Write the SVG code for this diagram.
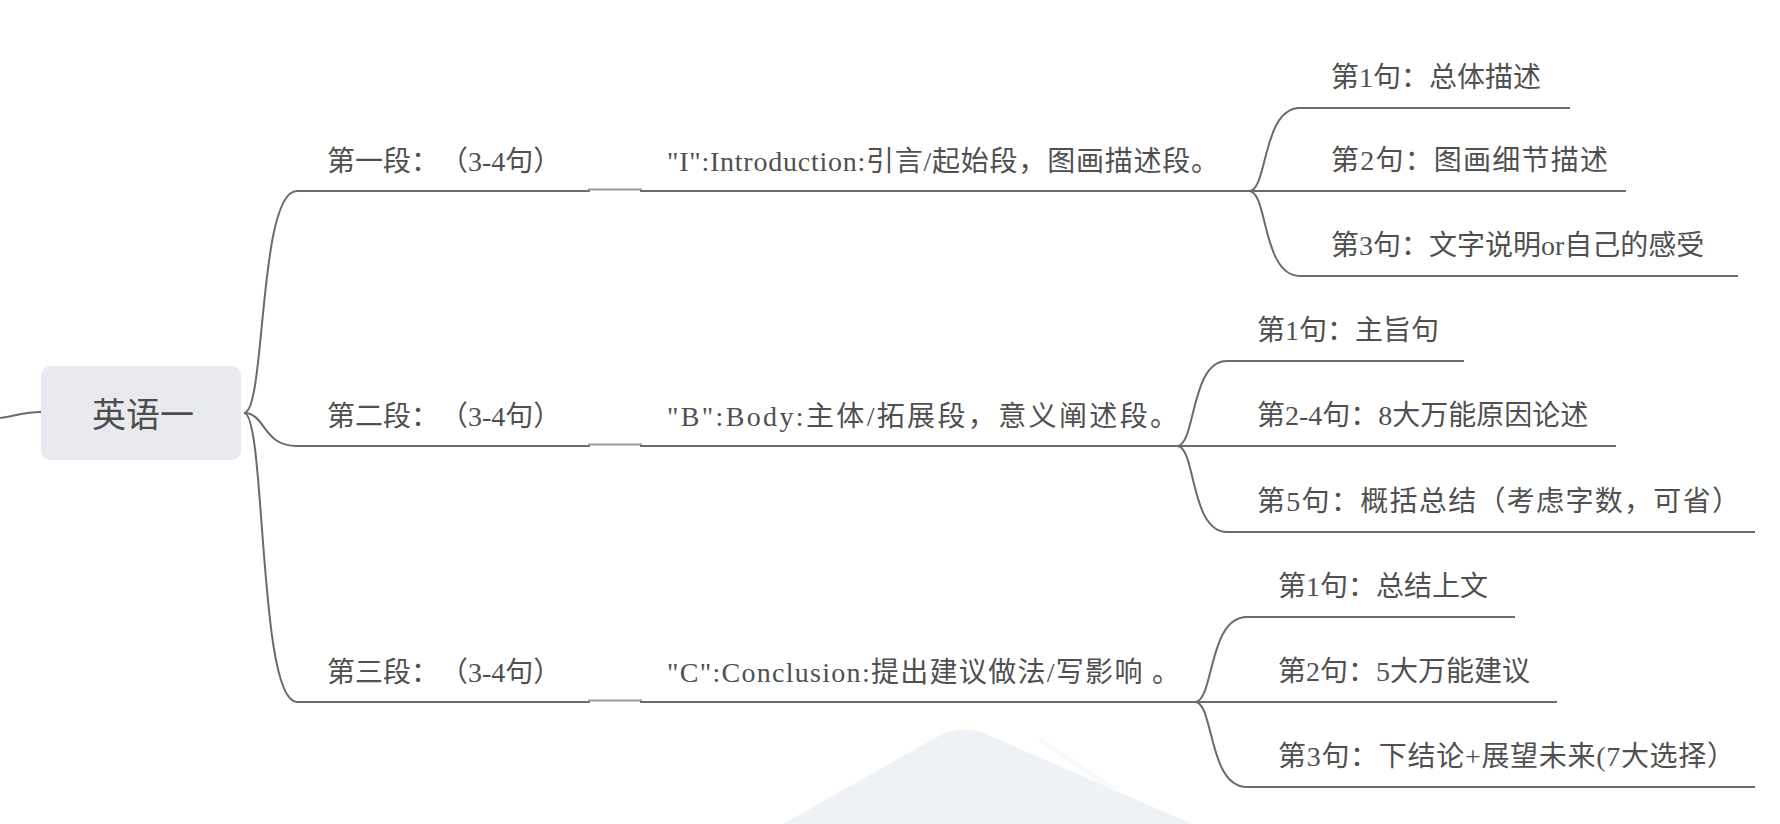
<svg xmlns="http://www.w3.org/2000/svg" width="1780" height="824" viewBox="0 0 1780 824">
<style>
.t{font-family:"Liberation Serif","Noto Sans CJK SC",serif;font-size:28px;fill:#505050;}
.root{font-family:"Liberation Serif","Noto Sans CJK SC",serif;font-size:34px;fill:#4d4d4d;text-anchor:middle;}
.c{fill:none;stroke:#6b6b6b;stroke-width:2;}
.s{fill:none;stroke:#9a9a9a;stroke-width:2;}
</style>
<rect width="1780" height="824" fill="#ffffff"/>
<g id="watermark">
<path d="M783,824 L935,738 Q965,721 995,738 L1192,824 Z" fill="#eef1f5"/>
<path d="M1040,740 L1115,790" stroke="#f7f9fb" stroke-width="5" fill="none"/>
</g>
<g id="connectors">
<path class="c" d="M0,418 C15,416 25,412 41,412"/>
<path class="c" d="M244,413 C266,413 258,191 297,191"/>
<path class="c" d="M244,413 C266,413 262,446 297,446"/>
<path class="c" d="M244,413 C266,413 258,702 297,702"/>
<path class="c" d="M297,191 H590"/><path class="s" d="M588,189.5 H642"/><path class="c" d="M640,191 H1249"/>
<path class="c" d="M297,446 H590"/><path class="s" d="M588,444.5 H642"/><path class="c" d="M640,446 H1177"/>
<path class="c" d="M297,702 H590"/><path class="s" d="M588,700.5 H642"/><path class="c" d="M640,702 H1195"/>
<path class="c" d="M1249,191 C1268,191 1262,108 1300,108 H1570"/>
<path class="c" d="M1249,191 H1626"/>
<path class="c" d="M1249,191 C1268,191 1262,276 1300,276 H1738"/>
<path class="c" d="M1177,446 C1196,446 1190,361 1227,361 H1464"/>
<path class="c" d="M1177,446 H1616"/>
<path class="c" d="M1177,446 C1196,446 1190,532 1227,532 H1755"/>
<path class="c" d="M1195,702 C1214,702 1208,617 1247,617 H1515"/>
<path class="c" d="M1195,702 H1557"/>
<path class="c" d="M1195,702 C1214,702 1208,787 1247,787 H1755"/>
</g>
<g id="root">
<rect x="41" y="366" width="200" height="94" rx="9" fill="#e9eaef"/>
<text class="root" x="143" y="427">英语一</text>
</g>
<g id="p1"><text class="t" x="327" y="171">第一段：<tspan dx="15">（3-4句）</tspan></text></g>
<g id="p1d"><text class="t" x="667" y="171" textLength="552" lengthAdjust="spacing">"I":Introduction:引言/起始段，图画描述段。</text></g>
<g id="p2"><text class="t" x="327" y="426">第二段：<tspan dx="15">（3-4句）</tspan></text></g>
<g id="p2d"><text class="t" x="667" y="426" textLength="511" lengthAdjust="spacing">"B":Body:主体/拓展段，意义阐述段。</text></g>
<g id="p3"><text class="t" x="667" y="682" textLength="513" lengthAdjust="spacing" id="p3dt">"C":Conclusion:提出建议做法/写影响 。</text></g>
<g id="p3l"><text class="t" x="327" y="682">第三段：<tspan dx="15">（3-4句）</tspan></text></g>
<g id="g1s1"><text class="t" x="1331" y="87">第1句：总体描述</text></g>
<g id="g1s2"><text class="t" x="1331" y="170" textLength="277" lengthAdjust="spacing">第2句：图画细节描述</text></g>
<g id="g1s3"><text class="t" x="1331" y="255">第3句：文字说明or自己的感受</text></g>
<g id="g2s1"><text class="t" x="1257" y="340">第1句：主旨句</text></g>
<g id="g2s2"><text class="t" x="1257" y="425">第2-4句：8大万能原因论述</text></g>
<g id="g2s3"><text class="t" x="1257" y="511" textLength="483" lengthAdjust="spacing">第5句：概括总结（考虑字数，可省）</text></g>
<g id="g3s1"><text class="t" x="1278" y="596">第1句：总结上文</text></g>
<g id="g3s2"><text class="t" x="1278" y="681">第2句：5大万能建议</text></g>
<g id="g3s3"><text class="t" x="1278" y="766" textLength="457" lengthAdjust="spacing">第3句：下结论+展望未来(7大选择）</text></g>
</svg>
